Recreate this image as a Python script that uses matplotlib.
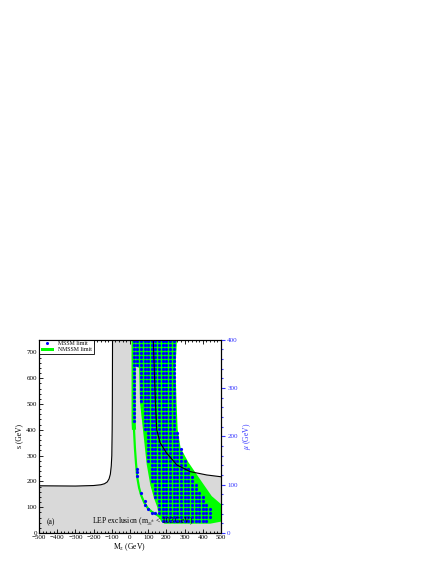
import matplotlib
matplotlib.use('Agg')
import matplotlib.pyplot as plt
import numpy as np
from matplotlib.lines import Line2D
from matplotlib.patches import Patch
from matplotlib.ticker import MultipleLocator

plt.rcParams['font.family'] = ['Liberation Serif', 'DejaVu Serif']
plt.rcParams['mathtext.fontset'] = 'stix'

# LEP boundary, left branch (M2, s)
lep_left_m2 = [-500, -300, -200, -160, -140, -125, -115, -108, -103, -100, -98, -97, -96]
lep_left_s = [183, 182, 184, 187, 191, 198, 210, 228, 260, 300, 400, 500, 750]
# LEP boundary, right branch (M2, s)
lep_right_m2 = [128, 135, 140, 147, 165, 201, 257, 330, 421, 500]
lep_right_s = [750, 600, 500, 400, 350, 310, 264, 238, 225, 218]

# NMSSM allowed region outline (M2, s)
nmssm_m2 = [30, 258, 250, 256, 262, 278, 320, 385, 449, 500, 500, 470, 440, 192, 172, 160,
            150, 132, 112, 92, 72, 55, 50, 30]
nmssm_s = [750, 750, 640, 500, 400, 330, 275, 208, 143, 112, 44, 40, 36, 36, 44, 62,
           100, 135, 185, 265, 395, 505, 640, 648]
# thin NMSSM band (M2, s)
band_m2 = [20, 20, 22, 27, 33, 40, 50, 62, 78, 98, 120, 150, 175, 192]
band_s = [750, 430, 400, 330, 270, 215, 175, 145, 118, 96, 82, 70, 55, 42]

# MSSM scan points: columns with lowest / highest s
mssm_cols = [20, 40, 60, 80, 100, 120, 140, 160, 180, 200, 220, 240, 260, 280, 300,
             320, 340, 360, 380, 400, 420, 440]
mssm_lo = [424, 650, 510, 400, 271, 193, 141, 79, 48, 48, 48, 48, 48, 48, 48,
           48, 48, 48, 48, 48, 48, 63]
mssm_hi = [750, 750, 750, 750, 750, 750, 750, 750, 750, 750, 750, 750, 390, 330, 290,
           250, 225, 195, 170, 141, 120, 105]
mssm_extra_m2 = [40, 40, 40, 60, 80, 80, 100, 120, 140]
mssm_extra_s = [219, 234.5, 250, 156.5, 125.5, 110, 94.5, 79, 79]
s_rows = np.arange(48, 751, 15.5)

fig = plt.figure(figsize=(4.43, 5.73), dpi=100)
ax = fig.add_axes([39 / 443, 40 / 573, 182 / 443, 193.5 / 573])
ax.set_facecolor('#d9d9d9')

# white (allowed) areas outside the LEP curves
ax.fill(lep_left_m2 + [-500], lep_left_s + [750], color='white', lw=0, zorder=1)
ax.fill(lep_right_m2 + [500], lep_right_s + [750], color='white', lw=0, zorder=1)

ax.fill(nmssm_m2, nmssm_s, color='#00ff00', lw=0, zorder=2)
ax.plot(band_m2[:3], band_s[:3], color='#00ff00', lw=3.0, zorder=2, solid_capstyle='butt')
ax.plot(band_m2[2:], band_s[2:], color='#00ff00', lw=1.6, zorder=2)

xs, ys = [], []
for c, lo, hi in zip(mssm_cols, mssm_lo, mssm_hi):
    for s in s_rows:
        if lo - 1 <= s <= hi + 1:
            xs.append(c)
            ys.append(s)
xs += mssm_extra_m2
ys += mssm_extra_s
ax.plot(xs, ys, 'o', color='#0000ff', ms=2.3, mew=0, zorder=3, clip_on=True)

ax.plot(lep_left_m2, lep_left_s, color='black', lw=0.8, zorder=4)
ax.plot(lep_right_m2, lep_right_s, color='black', lw=0.8, zorder=4)

ax.set_xlim(-500, 500)
ax.set_ylim(0, 750)
ax.xaxis.set_major_locator(MultipleLocator(100))
ax.xaxis.set_minor_locator(MultipleLocator(20))
ax.yaxis.set_major_locator(MultipleLocator(100))
ax.yaxis.set_minor_locator(MultipleLocator(20))
ax.tick_params(which='both', direction='in', top=True, right=True, labelsize=5, pad=1.5, width=0.6)
ax.tick_params(which='major', length=3)
ax.tick_params(which='minor', length=1.5)
for sp in ax.spines.values():
    sp.set_linewidth(0.8)
ax.set_xlabel('M$_2$ (GeV)', fontsize=5.5, labelpad=1)
ax.set_ylabel('s (GeV)', fontsize=5.5, labelpad=2)

blue = '#3333ff'
ax2 = ax.twinx()
ax2.set_ylim(0, 400)
ax2.yaxis.set_major_locator(MultipleLocator(100))
ax2.yaxis.set_minor_locator(MultipleLocator(20))
ax2.tick_params(which='both', direction='out', colors=blue, labelsize=5, pad=1.5, width=0.8)
ax2.tick_params(which='major', length=3)
ax2.tick_params(which='minor', length=1.5)
ax2.spines['right'].set_color('black')
ax2.spines['right'].set_linewidth(0.8)
ax2.set_ylabel('$\\mu$ (GeV)', fontsize=5.5, color=blue, labelpad=2)

ax.text(-460, 35, '(a)', fontsize=5.5, zorder=5)
ax.text(-210, 40, 'LEP exclusion (m$_{\\chi^{\\pm}_1}$ < 103 GeV)', fontsize=5.5, zorder=5)

handles = [Line2D([], [], marker='o', color='#0000ff', ls='none', ms=2.2, mew=0),
           Patch(facecolor='#00ff00', edgecolor='none')]
leg = ax.legend(handles, ['MSSM limit', 'NMSSM limit'], loc='upper left', fontsize=4.2,
                frameon=True, fancybox=False, edgecolor='black', framealpha=1,
                borderaxespad=0, handlelength=2.2, handleheight=0.6, borderpad=0.3,
                labelspacing=0.2, handletextpad=0.8)
leg.get_frame().set_linewidth(0.6)
leg.set_zorder(6)

fig.savefig('out.png', dpi=100)
